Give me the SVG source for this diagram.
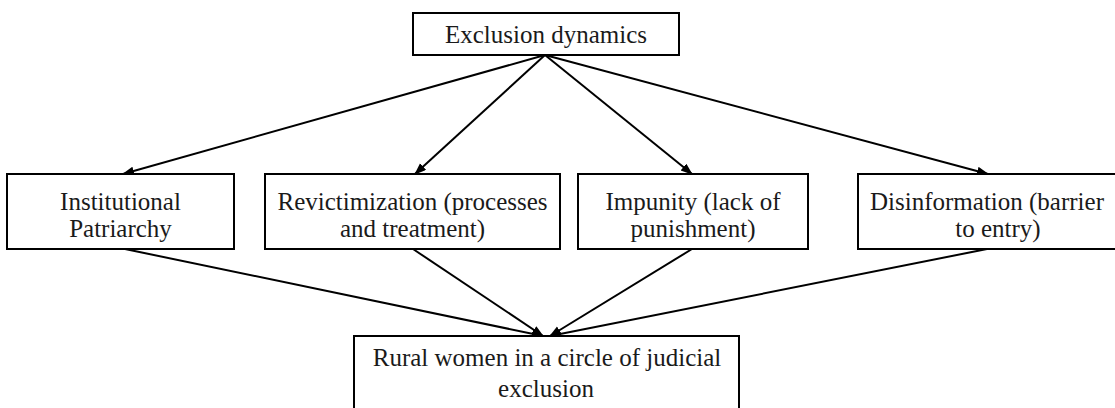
<svg xmlns="http://www.w3.org/2000/svg" width="1115" height="408" viewBox="0 0 1115 408">
<style>
.box{fill:#fff;stroke:#000;stroke-width:2}
.lbl{font-family:"Liberation Serif","Times New Roman",serif;font-size:25px;fill:#1a1a1a;text-anchor:middle}
.edge{stroke:#000;stroke-width:2;fill:none;marker-end:url(#ah)}
</style>
<defs>
<marker id="ah" markerUnits="userSpaceOnUse" markerWidth="12" markerHeight="10" refX="11" refY="4.5" orient="auto">
<path d="M0,0 L12,4.5 L0,9 z" fill="#000"/>
</marker>
</defs>
<rect width="1115" height="408" fill="#fff"/>
<g id="connectors">
<line class="edge" x1="545" y1="55" x2="123" y2="174"/>
<line class="edge" x1="545" y1="55" x2="415" y2="174"/>
<line class="edge" x1="545" y1="55" x2="692" y2="174"/>
<line class="edge" x1="545" y1="55" x2="988" y2="174"/>
<line class="edge" x1="125" y1="249" x2="543" y2="336"/>
<line class="edge" x1="413" y1="249" x2="543" y2="336"/>
<line class="edge" x1="692" y1="249" x2="550" y2="336"/>
<line class="edge" x1="987" y1="249" x2="550" y2="336"/>
</g>
<g id="exclusion-dynamics">
<rect class="box" x="413" y="13" width="266" height="42"/>
<text class="lbl" x="546" y="43">Exclusion dynamics</text>
</g>
<g id="institutional-patriarchy">
<rect class="box" x="7" y="174" width="227" height="75"/>
<text class="lbl" x="120.5" y="210">Institutional</text>
<text class="lbl" x="120.5" y="237">Patriarchy</text>
</g>
<g id="revictimization">
<rect class="box" x="265" y="174" width="295" height="75"/>
<text class="lbl" x="412.5" y="210">Revictimization (processes</text>
<text class="lbl" x="412.5" y="237">and treatment)</text>
</g>
<g id="impunity">
<rect class="box" x="578" y="174" width="230" height="75"/>
<text class="lbl" x="693" y="210">Impunity (lack of</text>
<text class="lbl" x="693" y="237">punishment)</text>
</g>
<g id="disinformation">
<rect class="box" x="858" y="174" width="280" height="75"/>
<text class="lbl" x="987" y="210">Disinformation (barrier</text>
<text class="lbl" x="998" y="237">to entry)</text>
</g>
<g id="rural-women">
<rect class="box" x="354" y="336" width="385" height="90"/>
<text class="lbl" x="547" y="366">Rural women in a circle of judicial</text>
<text class="lbl" x="546" y="397">exclusion</text>
</g>
</svg>
